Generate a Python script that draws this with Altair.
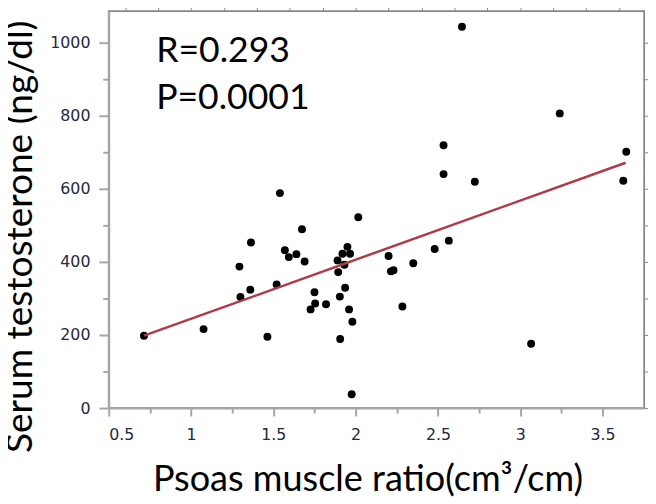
import altair as alt
import pandas as pd

ratio = [0.714, 1.076, 1.294, 1.30, 1.364, 1.36, 1.464, 1.52, 1.54, 1.57, 1.594, 1.64,
         1.674, 1.69, 1.726, 1.75, 1.754, 1.82, 1.89, 1.894, 1.904, 1.906, 1.92, 1.932,
         1.936, 1.95, 1.966, 1.96, 1.98, 1.976, 2.016, 2.2, 2.214, 2.23, 2.284, 2.35,
         2.48, 2.566, 3.066, 2.646, 3.24, 2.534, 2.534, 2.724, 3.644, 3.626]
testosterone = [198, 216, 387, 304, 453, 324, 195, 338, 588, 432, 413, 421,
                489, 401, 270, 317, 286, 284, 404, 372, 305, 189, 422, 392,
                329, 441, 422, 270, 236, 38, 522, 416, 374, 377, 278, 396,
                435, 458, 176, 1043, 806, 719, 640, 619, 701, 622]
fit_x = [0.714, 3.64]
fit_y = [198, 671]
x_major = [0.5, 1, 1.5, 2, 2.5, 3, 3.5]
x_minor = [0.75, 1.25, 1.75, 2.25, 2.75, 3.25]
y_major = [0, 200, 400, 600, 800, 1000]
y_minor = [100, 300, 500, 700, 900]
annotations = ["R=0.293", "P=0.0001"]

pts = pd.DataFrame({"x": ratio, "y": testosterone})
fit = pd.DataFrame({"x": fit_x, "y": fit_y})

xs = alt.Scale(domain=[0.5, 3.752], nice=False, zero=False)
ys = alt.Scale(domain=[0, 1086], nice=False)
GRAY = "#a6a6a6"
LBL = "#262840"

x_axis = alt.Axis(values=x_major, orient="bottom", format="~g", tickSize=8, tickWidth=2,
                  tickColor=GRAY, domainColor=GRAY, domainWidth=2, grid=False,
                  labelFont="DejaVu Sans", labelFontSize=16, labelColor=LBL, labelPadding=11,
                  title="Psoas muscle ratio(cm³/cm)", titleFont="Lato", titleFontSize=36.5,
                  titleFontWeight="normal", titleColor="#000000", titleX=262, titleY=83,
                  titleAlign="center", titleBaseline="alphabetic")
y_axis = alt.Axis(values=y_major, orient="left", format="d", tickSize=10, tickWidth=2,
                  tickColor=GRAY, domainColor=GRAY, domainWidth=2, grid=False,
                  labelFont="DejaVu Sans", labelFontSize=16, labelColor=LBL, labelPadding=9,
                  title="Serum testosterone (ng/dl)", titleFont="Lato", titleFontSize=37.5,
                  titleFontWeight="normal", titleColor="#000000", titleX=-78, titleY=228,
                  titleAlign="center", titleBaseline="alphabetic", titleAngle=270)

points = alt.Chart(pts).mark_circle(size=64, color="#000000", opacity=1).encode(
    x=alt.X("x:Q", scale=xs, axis=x_axis),
    y=alt.Y("y:Q", scale=ys, axis=y_axis),
)

minor = alt.Chart(pts).mark_circle(opacity=0).encode(
    x=alt.X("x:Q", scale=xs, axis=alt.Axis(values=x_minor, orient="bottom", labels=False,
                                             domain=False, grid=False, tickSize=5, tickWidth=2,
                                             tickColor=GRAY, title=None)),
    y=alt.Y("y:Q", scale=ys, axis=alt.Axis(values=y_minor, orient="left", labels=False,
                                             domain=False, grid=False, tickSize=6, tickWidth=2,
                                             tickColor=GRAY, title=None)),
)

line = alt.Chart(fit).mark_line(color="#b03a48", strokeWidth=2.5).encode(
    x=alt.X("x:Q", scale=xs),
    y=alt.Y("y:Q", scale=ys),
)

text_layers = []
for i, t in enumerate(annotations):
    text_layers.append(
        alt.Chart(pd.DataFrame({"t": [t]})).mark_text(
            font="Lato", fontSize=36, align="left", baseline="alphabetic", color="#000000"
        ).encode(x=alt.value(48), y=alt.value(52 + 47 * i), text="t:N")
    )

chart = alt.layer(minor, points, line, *text_layers).resolve_axis(
    x="independent", y="independent"
).properties(
    width=542, height=402,
    autosize=alt.AutoSizeParams(type="none"),
    padding={"left": 102, "top": 0, "right": 4, "bottom": 92},
).configure_view(stroke=GRAY, strokeWidth=2)

chart.save("out.html", embed_options={"renderer": "svg", "actions": False})
